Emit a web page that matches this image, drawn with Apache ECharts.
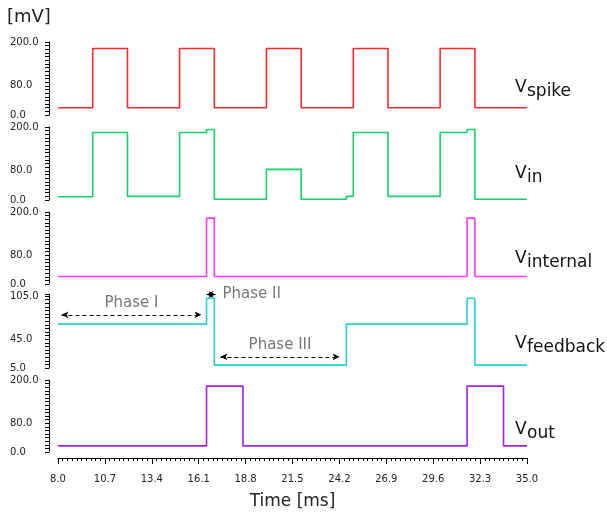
<!DOCTYPE html>
<html><head><meta charset="utf-8">
<script src="https://cdn.jsdelivr.net/npm/echarts@6/dist/echarts.min.js"></script>
<style>html,body{margin:0;padding:0;background:#fff}#c{width:607px;height:512px}</style>
</head><body><div id="c"></div>
<script>
// ---- data (time in ms, level in mV) ----
const T_START = 8.0, T_END = 35.0, T_STEP = 2.7;
const seriesNames = ['spike', 'in', 'internal', 'feedback', 'out'];
const spikeT = [8, 10, 12, 15, 17, 20, 22, 25, 27, 30, 32, 35];
const spikeV = [20, 182, 20, 182, 20, 182, 20, 182, 20, 182, 20, 20];
const inT = [8, 10, 12, 15, 16.55, 17, 20, 22, 24.6, 25, 27, 30, 31.55, 32, 35];
const inV = [9, 185, 10, 185, 193, 2, 84, 2, 10, 185, 10, 185, 193, 2, 2];
const internalT = [8, 16.55, 17, 31.55, 32, 35];
const internalV = [21, 183, 21, 183, 21, 21];
const feedbackT = [8, 16.55, 17, 24.6, 31.55, 32, 35];
const feedbackV = [66, 102, 9, 66, 102, 9, 9];
const outT = [8, 16.55, 18.65, 31.55, 33.65, 35];
const outV = [17, 183, 17, 183, 17, 17];
// y tick labels per panel
const yLabelsStd = [0, 80, 200];
const yLabelsFeedback = [5, 45, 105];
// phase annotations (on feedback panel)
const phaseNames = ['Phase I', 'Phase II', 'Phase III'];
const phaseFrom = [8.2, 16.55, 17.35];
const phaseTo = [16.26, 17.07, 24.21];
const phaseLevel = [79, 107.4, 20.5];
const phaseLabelPos = ['middle', 'end', 'middle'];

const colors = ['#ff2b2b', '#17cf6b', '#ff3cff', '#2ad0d0', '#a020f0'];
const allT = [spikeT, inT, internalT, feedbackT, outT];
const allV = [spikeV, inV, internalV, feedbackV, outV];

const FONT = 'DejaVu Sans';
const tops = [42, 127, 212, 294, 380];
const heights = [73, 73, 72, 74, 72];

const grids = tops.map((t, i) => ({left: 58, right: 80, top: t, height: heights[i]}));

const xAxes = tops.map((t, i) => {
  const last = i === tops.length - 1;
  return {
    type: 'value', gridIndex: i, min: 0, max: T_END - T_START, interval: T_STEP,
    show: last, offset: 6,
    axisLine: {show: true, onZero: false, lineStyle: {color: '#000', width: 1}},
    axisTick: {show: true, length: 6, lineStyle: {color: '#000'}},
    minorTick: {show: true, splitNumber: 10, length: 3, lineStyle: {color: '#000'}},
    splitLine: {show: false},
    axisLabel: {show: true, margin: 16, fontFamily: FONT, fontSize: 10, color: '#222',
      formatter: v => (v + T_START).toFixed(1)},
    name: last ? 'Time [ms]' : '', nameLocation: 'middle', nameGap: 35,
    nameTextStyle: {fontFamily: FONT, fontSize: 17, color: '#222'}
  };
});

function yAxis(i, min, max, interval, labels) {
  return {
    type: 'value', gridIndex: i, min, max, interval, offset: 9,
    axisLine: {show: true, onZero: false, lineStyle: {color: '#000', width: 1}},
    axisTick: {show: true, length: 4, lineStyle: {color: '#000'}},
    splitLine: {show: false},
    axisLabel: {show: true, align: 'left', margin: 39, fontFamily: FONT, fontSize: 10, color: '#222',
      formatter: v => labels.some(l => Math.abs(l - v) < 1e-6) ? v.toFixed(1) : ''}
  };
}
const yAxes = [
  yAxis(0, 0, 200, 10, yLabelsStd),
  yAxis(1, 0, 200, 10, yLabelsStd),
  yAxis(2, 0, 200, 10, yLabelsStd),
  yAxis(3, 5, 108, 5, yLabelsFeedback),
  yAxis(4, 0, 200, 10, yLabelsStd)
];

const series = allT.map((ts, i) => {
  const s = {
    type: 'line', xAxisIndex: i, yAxisIndex: i, step: 'end', symbol: 'none',
    clip: false, silent: true,
    lineStyle: {color: colors[i], width: 1.6},
    data: ts.map((t, k) => [t - T_START, allV[i][k]])
  };
  if (i === 3) {
    s.markLine = {
      silent: true, animation: false,
      symbol: ['arrow', 'arrow'], symbolSize: [5, 7],
      lineStyle: {type: [4, 3], color: '#000', width: 1},
      itemStyle: {color: '#000'},
      data: phaseNames.map((n, k) => [
        {coord: [phaseFrom[k] - T_START, phaseLevel[k]],
         label: {show: true, position: phaseLabelPos[k], formatter: n, distance: phaseLabelPos[k] === 'end' ? 7 : 4,
           color: '#777', fontFamily: FONT, fontSize: 15}},
        {coord: [phaseTo[k] - T_START, phaseLevel[k]]}
      ])
    };
  }
  return s;
});

const vBase = [94, 180, 265, 350, 436];
const graphic = [{
  type: 'text', left: 7, top: 8,
  style: {text: '[mV]', fontFamily: FONT, fontSize: 18, fill: '#222'}
}];
seriesNames.forEach((n, i) => {
  graphic.push({type: 'text', x: 515, y: vBase[i] - 6,
    style: {text: 'V', fontFamily: FONT, fontSize: 17, fill: '#111', verticalAlign: 'middle', align: 'left'}});
  graphic.push({type: 'text', x: 527, y: vBase[i] - 2,
    style: {text: n, fontFamily: FONT, fontSize: 17, fill: '#111', verticalAlign: 'middle', align: 'left'}});
});

const chart = echarts.init(document.getElementById('c'), null, {renderer: 'canvas'});
chart.setOption({
  animation: false,
  backgroundColor: '#fff',
  grid: grids, xAxis: xAxes, yAxis: yAxes, series, graphic
});
</script></body></html>
